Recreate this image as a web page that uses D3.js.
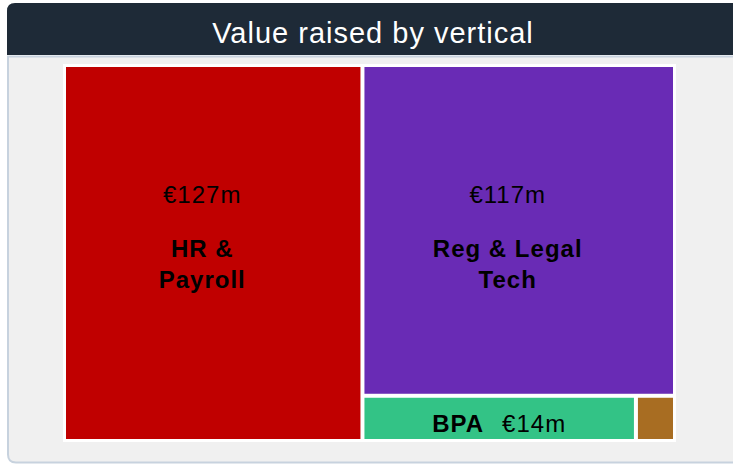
<!DOCTYPE html>
<html>
<head>
<meta charset="utf-8">
<script src="https://cdn.jsdelivr.net/npm/d3@7"></script>
<style>
  body { margin: 0; background: #ffffff; }
  svg { display: block; font-family: "Liberation Sans", Arial, sans-serif; }
</style>
</head>
<body>
<script>
// chart data
var verticals = ["HR & Payroll", "Reg & Legal Tech", "BPA", "Other"];
var nameLines = [["HR &", "Payroll"], ["Reg & Legal", "Tech"], ["BPA"], []];
var raised = [127, 117, 14, 2];
var colors = ["#c00000", "#692bb5", "#33c386", "#a86d22"];
var title = "Value raised by vertical";

var width = 733,
    height = 464;

var svg = d3.select("body")
        .append("svg")
        .attr("width", width)
        .attr("height", height);

// panel + header
svg.append("path")
        .attr("d", "M8,56.5 H760 V462.5 H16 Q8,462.5 8,454.5 Z")
        .attr("fill", "#f0f0f0")
        .attr("stroke", "#c7d2de")
        .attr("stroke-width", 2);

svg.append("path")
        .attr("d", "M7,55 V11 Q7,3 15,3 H760 V55 Z")
        .attr("fill", "#1e2a37");

svg.append("text")
        .attr("x", 373)
        .attr("y", 43)
        .attr("text-anchor", "middle")
        .attr("fill", "#ffffff")
        .style("font-size", "29px")
        .style("letter-spacing", "1px")
        .text(title);

// treemap
var box = {x: 63, y: 64, w: 613, h: 378};

svg.append("rect")
        .attr("x", box.x)
        .attr("y", box.y)
        .attr("width", box.w)
        .attr("height", box.h)
        .attr("fill", "#ffffff");

var data = verticals.map(function (d, i) {
    return {name: d, lines: nameLines[i], value: raised[i], color: colors[i]};
});

var root = d3.hierarchy({children: data})
        .sum(function (d) { return d.value || 0; })
        .sort(function (a, b) { return b.value - a.value; });

d3.treemap()
        .tile(d3.treemapSquarify.ratio(1))
        .size([box.w, box.h])
        .paddingOuter(3)
        .paddingInner(4)(root);

var g = svg.append("g")
        .attr("transform", "translate(" + box.x + "," + box.y + ")");

var cell = g.selectAll(".cell")
        .data(root.leaves())
        .enter().append("g")
        .classed("cell", true);

cell.append("rect")
        .attr("x", function (d) { return d.x0; })
        .attr("y", function (d) { return d.y0; })
        .attr("width", function (d) { return d.x1 - d.x0; })
        .attr("height", function (d) { return d.y1 - d.y0; })
        .attr("fill", function (d) { return d.data.color; });

function money(v) { return "\u20ac" + v + "m"; }

cell.each(function (d) {
    var c = d3.select(this),
        w = d.x1 - d.x0,
        h = d.y1 - d.y0;
    if (w < 60) return;
    if (h < 60) {
        // one line: name then value
        var t = c.append("text")
                .attr("x", (d.x0 + d.x1) / 2)
                .attr("y", d.y1 - 7)
                .attr("text-anchor", "middle")
                .attr("fill", "#000")
                .style("font-size", "24px")
                .style("letter-spacing", "1px");
        t.append("tspan").style("font-weight", "bold").text(d.data.lines.join(" "));
        t.append("tspan").attr("dx", 18).text(money(d.data.value));
        return;
    }
    var cx = (d.x0 + d.x1) / 2 - 11;
    c.append("text")
            .attr("x", cx)
            .attr("y", d.y0 + 136)
            .attr("text-anchor", "middle")
            .attr("fill", "#000")
            .style("font-size", "24px")
            .style("letter-spacing", "1px")
            .text(money(d.data.value));
    c.append("text")
            .attr("text-anchor", "middle")
            .attr("fill", "#000")
            .style("font-size", "24px")
            .style("font-weight", "bold")
            .style("letter-spacing", "1px")
            .selectAll("tspan")
            .data(d.data.lines)
            .enter().append("tspan")
            .attr("x", cx)
            .attr("y", function (l, i) { return d.y0 + 190 + i * 31; })
            .text(function (l) { return l; });
});
</script>
</body>
</html>
